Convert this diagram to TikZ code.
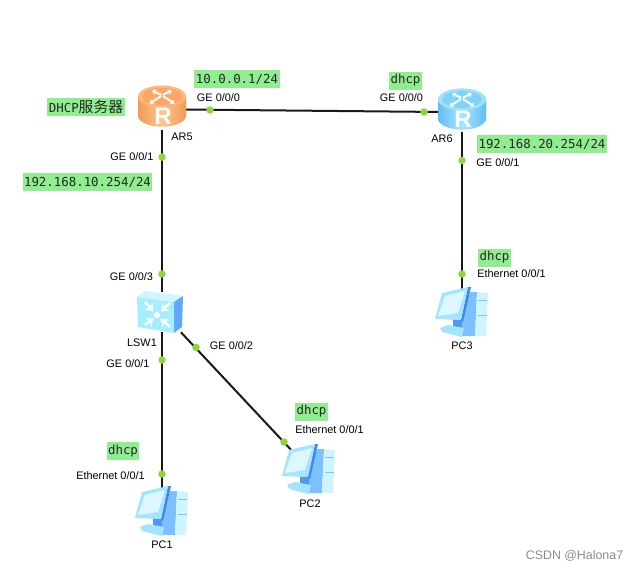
\documentclass[tikz,border=0pt]{standalone}
\usepackage{fontspec}
\setmainfont{Liberation Sans}
\setmonofont{DejaVu Sans Mono}
\newfontfamily\cjk{Noto Sans CJK SC}
\usetikzlibrary{arrows.meta}

\definecolor{tagfill}{HTML}{90EE90}
\definecolor{portdot}{HTML}{8CD83C}
\definecolor{orangeedge}{HTML}{F39A55}
\definecolor{orangemid}{HTML}{FFC68E}
\definecolor{orangetop}{HTML}{FFB77C}
\definecolor{orangedisc}{HTML}{FFA666}
\definecolor{blueedge}{HTML}{62BDF5}
\definecolor{bluemid}{HTML}{A6E6FF}
\definecolor{bluetop}{HTML}{9FE2FF}
\definecolor{bluedisc}{HTML}{7FD2FA}
\definecolor{switchtop}{HTML}{CFF6FF}
\definecolor{switchface}{HTML}{A6EEFF}
\definecolor{switchside}{HTML}{5EA8FA}
\definecolor{towerface}{HTML}{CDF4FF}
\definecolor{towerside}{HTML}{7CC0FF}
\definecolor{screenedge}{HTML}{A4E4FF}
\definecolor{screenlight}{HTML}{DDF7FF}
\definecolor{screenblue}{HTML}{3F86EE}

\tikzset{
    pics/router/.style n args={4}{code={
        \begin{scope}[yshift=2.8pt]
        \fill[#1] (-24,-10) -- (-24,9) arc[start angle=180, end angle=0, x radius=24, y radius=11]
            -- (24,-10) -- cycle;
        \shade[left color=#1, right color=#1, middle color=#2]
            (-24,-10) -- (-24,9) arc[start angle=180, end angle=0, x radius=24, y radius=11]
            -- (24,-10) -- cycle;
        \fill[#3] (0,-10) ellipse[x radius=24, y radius=11];
        \fill[#4] (0,-10) ellipse[x radius=20, y radius=8.5];
        \foreach \a/\b in {-4/-16, 5/-3, 4/-16, -5/-3}
            \draw[white, line width=2pt, -{Stealth[length=4pt,width=6pt]}]
                (\a*.2,-10+\b*.1) -- (\a*2.5,\b);
        \node[white, font=\bfseries\fontsize{24}{24}\selectfont] at (1,10) {R};
        \end{scope}
    }},
    pics/switchbox/.style={code={
        \fill[fill=switchtop] (-25,-15) -- (-17,-21) -- (21,-16) -- (12,-10) -- cycle;
        \fill[fill=switchside] (12,-10) -- (21,-16) -- (20,15) -- (12,21) -- cycle;
        \fill[fill=switchface] (-25,-15) -- (12,-10) -- (12,21) -- (-24,15) -- cycle;
        \fill[white] (-5,3) circle[radius=3];
        \foreach \a/\b in {-17/-10, 8/-9, -17/13, 8/15}
            \draw[white, line width=2.4pt, -{Stealth[length=7pt,width=10pt]}]
                (\a,\b) -- ({-5+(\a+5)*.3},{3+(\b-3)*.3});
    }},
    pics/desktop/.style={code={
        % tower
        \fill[towerside] (8,-20) -- (15,-20) -- (13,24) -- (-5,24) -- cycle;
        \fill[towerface] (15,-20) -- (26,-19) -- (24,24) -- (13,24) -- cycle;
        \draw[towerside, line width=.6pt] (16,-12) -- (25,-12) (16,3) -- (24.5,3);
        % foot
        \fill[screenblue!70!towerside] (-9,6) -- (0,6) -- (0,16) -- (-9,15) -- cycle;
        \fill[screenedge] (-22,16) -- (-14,13) -- (2,16) -- (0,25) -- (-20,20) -- cycle;
        % monitor
        \fill[screenblue] (6,-25) -- (9,-25) -- (1,10) -- (-1,8) -- cycle;
        \fill[screenedge] (-20,-19) -- (6,-25) -- (-1,8) -- (-27,7) -- cycle;
        \fill[screenlight] (-17,-16) -- (3,-21) -- (-4,1) -- (-24,4) -- cycle;
    }},
    devbox/.style={minimum width=46pt, minimum height=40pt, inner sep=0pt},
    pcbox/.style={minimum width=38pt, minimum height=38pt, inner sep=0pt},
    link/.style={line width=2pt, black!90},
    port/.style={circle, fill=portdot, minimum size=7.5pt, inner sep=0pt},
    tag/.style={fill=tagfill, minimum height=18pt, inner xsep=1.5pt, inner ysep=0pt,
        font=\ttfamily\fontsize{12.4}{14}\selectfont, text=black!85},
    lab/.style={inner sep=0pt, font=\fontsize{10.9}{12}\selectfont}
}

\begin{document}
\begin{tikzpicture}[x=1pt, y=-1pt]
\useasboundingbox (0,0) rectangle (637,570);

% =========================================================
% Devices
% =========================================================
\node[devbox] (ar5)  at (162,109.3) {};
\node[devbox] (ar6)  at (462,112.2) {};
\node[devbox] (lsw1) at (162,312) {};
\node[pcbox]  (pc1)  at (162,511) {};
\node[pcbox]  (pc2)  at (309,469) {};
\node[pcbox]  (pc3)  at (462,312) {};

% links
\draw[link] (ar5) -- (ar6);
\draw[link] (ar5) -- (lsw1);
\draw[link] (lsw1) -- (pc1);
\draw[link] (lsw1) -- (pc2);
\draw[link] (ar6) -- (pc3);

% icons
\pic at (ar5) {router={orangeedge}{orangemid}{orangetop}{orangedisc}};
\pic at (ar6) {router={blueedge}{bluemid}{bluetop}{bluedisc}};
\pic at (lsw1) {switchbox};
\pic at (pc1) {desktop};
\pic at (pc2) {desktop};
\pic at (pc3) {desktop};

% =========================================================
% Port dots
% =========================================================
\node[port] (p1)  at (210,110) {};
\node[port] (p2)  at (424,112) {};
\node[port] (p3)  at (162,157) {};
\node[port] (p4)  at (162,274) {};
\node[port] (p5)  at (162,360) {};
\node[port] (p6)  at (162,474) {};
\node[port] (p7)  at (196,347.5) {};
\node[port] (p8)  at (284,442) {};
\node[port] (p9)  at (462,160.5) {};
\node[port] (p10) at (462,274) {};

% =========================================================
% Green tags
% =========================================================
\node[tag] (t1) at (237,79)    {10.0.0.1/24};
\node[tag] (t2) at (86,107)    {DHCP{\cjk\fontsize{14.8}{14}\selectfont 服务器}};
\node[tag] (t3) at (87.5,182)  {192.168.10.254/24};
\node[tag] (t4) at (405.5,80.5) {dhcp};
\node[tag] (t5) at (542,144)   {192.168.20.254/24};
\node[tag] (t6) at (123,451)   {dhcp};
\node[tag] (t7) at (311.5,411.5) {dhcp};
\node[tag] (t8) at (494.5,257.5) {dhcp};

% =========================================================
% Port and device names
% =========================================================
\node[lab] (l1)  at (218.5,97.5) {GE 0/0/0};
\node[lab] (l2)  at (132,157)    {GE 0/0/1};
\node[lab] (l3)  at (401.5,98)   {GE 0/0/0};
\node[lab] (l4)  at (498,163)    {GE 0/0/1};
\node[lab] (l5)  at (131.5,277)  {GE 0/0/3};
\node[lab] (l6)  at (128,364)    {GE 0/0/1};
\node[lab] (l7)  at (231.5,346)  {GE 0/0/2};
\node[lab] (l8)  at (110.5,476)  {Ethernet 0/0/1};
\node[lab] (l9)  at (329.5,430)  {Ethernet 0/0/1};
\node[lab] (l10) at (511.5,274)  {Ethernet 0/0/1};

\node[lab] (n1) at (182,137) {AR5};
\node[lab] (n2) at (442,139) {AR6};
\node[lab] (n3) at (142,343) {LSW1};
\node[lab] (n4) at (162,545) {PC1};
\node[lab] (n5) at (310,504) {PC2};
\node[lab] (n6) at (462,346) {PC3};

\node[inner sep=0pt, text=black!45, font=\fontsize{12.4}{14}\selectfont] (mark) at (574.5,556) {CSDN @Halona7};

\end{tikzpicture}
\end{document}
